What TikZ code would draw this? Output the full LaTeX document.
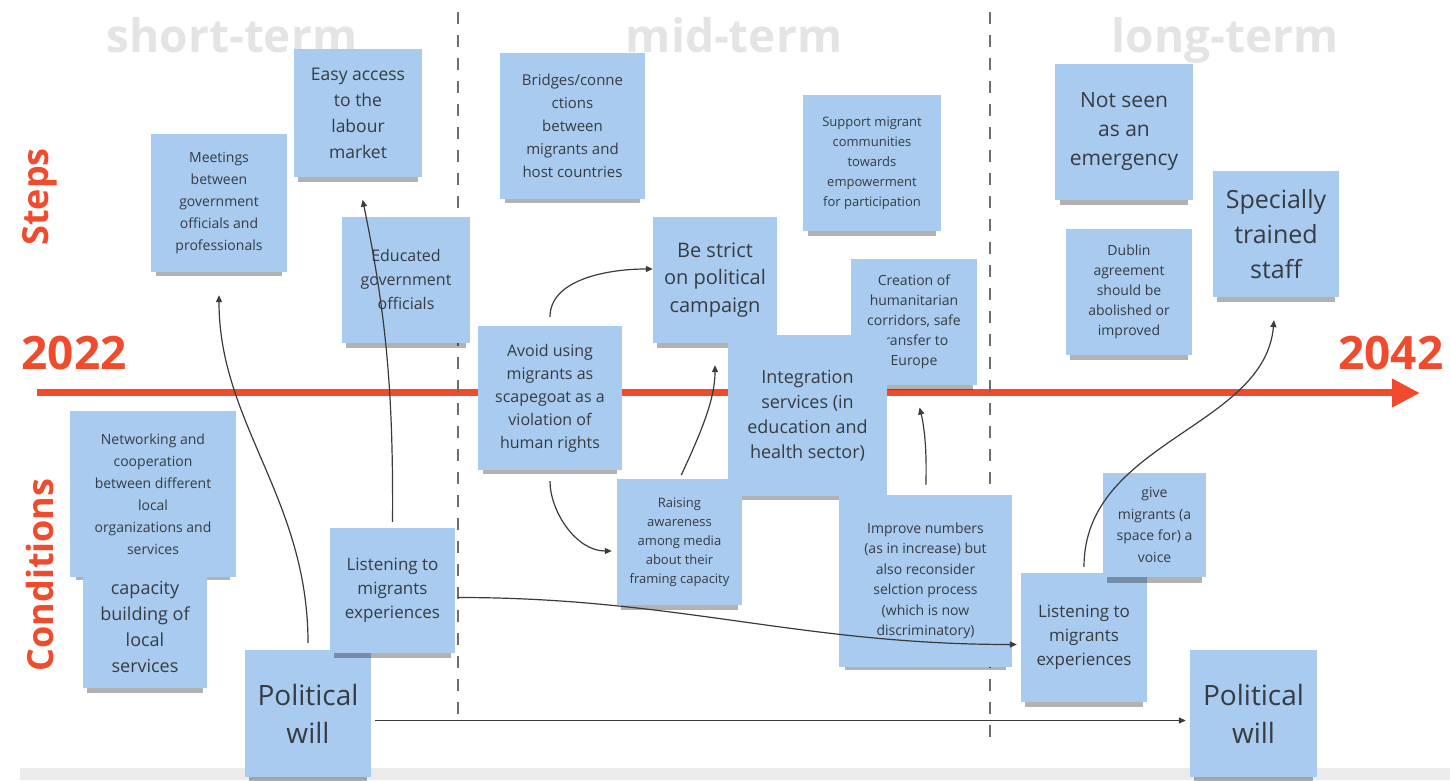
\documentclass[tikz,border=0pt]{standalone}
\usepackage{fontspec}
\setmainfont{Open Sans}
\usepackage{xcolor}
\usepackage{tikz}
\usetikzlibrary{arrows.meta,shadows}

\definecolor{notebl}{HTML}{A8CBEF}
\definecolor{notetx}{HTML}{373C42}
\definecolor{accent}{HTML}{EF4B2C}
\definecolor{headgray}{HTML}{E4E4E4}
\definecolor{divgray}{HTML}{6E6E6E}
\definecolor{bandgray}{HTML}{EBEBEB}
\definecolor{linkgray}{HTML}{3A3A3A}
\newcommand{\nfs}[2]{\fontsize{#1}{#2}\selectfont}

\begin{document}
\begin{tikzpicture}[
  x=1pt, y=1pt,
  note/.style={fill=notebl, text=notetx, align=center, inner sep=0pt,
    drop shadow={shadow xshift=0pt, shadow yshift=-10pt, shadow scale=0.93, opacity=0.3, fill=black}},
  head/.style={text=headgray, font=\nfs{46}{52}\bfseries},
  side/.style={text=accent, font=\nfs{36}{40}\bfseries},
  year/.style={text=accent, font=\nfs{46}{50}\bfseries},
  timeline/.style={draw=accent, line width=7pt, -{Triangle[length=28pt,width=27pt]}},
  divider/.style={draw=divgray, line width=2pt, dash pattern=on 12pt off 11pt},
  link/.style={draw=linkgray, line width=1.2pt, -{Triangle[length=7pt,width=6pt]}},
]
\useasboundingbox (0,0) rectangle (1450,780);

\fill[bandgray] (20,0) rectangle (1450,12);

\node[head, anchor=base] (hshort) at (232,727) {short-term};
\node[head, anchor=base] (hmid) at (734,727) {mid-term};
\node[head, anchor=base] (hlong) at (1225,727) {long-term};

\node[side, rotate=90] (steps) at (40,583) {Steps};
\node[side, rotate=90] (cond) at (40,205) {Conditions};
\node[year, anchor=base west] (y0) at (18,410) {2022};
\node[year, anchor=base east] (y1) at (1447,410) {2042};

\coordinate (t0) at (37,387);
\coordinate (t1) at (1420,387);
\draw[timeline] (t0) -- (t1);

\coordinate (d1a) at (458,768);
\coordinate (d1b) at (458,55);
\coordinate (d2a) at (990,768);
\coordinate (d2b) at (990,40);
\draw[divider] (d1a) -- (d1b);
\draw[divider] (d2a) -- (d2b);

\node[note, minimum width=136pt, minimum height=138pt, font=\nfs{14}{22}] (meet) at (219,577) {Meetings\\between\\government\\officials and\\professionals};
\node[note, minimum width=128pt, minimum height=128pt, font=\nfs{17.5}{26}] (access) at (358,667) {Easy access\\to the\\labour\\market};
\node[note, minimum width=128pt, minimum height=126pt, font=\nfs{16}{24}] (edu) at (406,500) {Educated\\government\\officials};
\node[note, minimum width=166pt, minimum height=166pt, font=\nfs{14}{22}] (network) at (153,286) {Networking and\\cooperation\\between different\\local\\organizations and\\services};
\node[note, minimum width=124pt, minimum height=123pt, font=\nfs{18}{26}] (capac) at (145,153.5) {capacity\\building of\\local\\services};
\node[note, minimum width=126pt, minimum height=127pt, font=\nfs{28}{38}] (polL) at (308,66.5) {Political\\will};
\node[note, minimum width=125pt, minimum height=125pt, font=\nfs{17}{24}] (listenL) at (392.5,189.5) {Listening to\\migrants\\experiences};

\node[note, minimum width=145pt, minimum height=146pt, font=\nfs{15}{23}] (bridge) at (572.5,654) {Bridges/conne\\ctions\\between\\migrants and\\host countries};
\node[note, minimum width=138pt, minimum height=136pt, font=\nfs{13}{20}] (support) at (872,617) {Support migrant\\communities\\towards\\empowerment\\for participation};
\node[note, minimum width=124pt, minimum height=126pt, font=\nfs{20}{27.5}] (strict) at (715,500) {Be strict\\on political\\campaign};
\node[note, minimum width=126pt, minimum height=126pt, font=\nfs{14}{20}] (corridor) at (914,458) {Creation of\\humanitarian\\corridors, safe\\transfer to\\Europe};
\node[note, minimum width=144pt, minimum height=144pt, font=\nfs{16}{23}] (avoid) at (550,382) {Avoid using\\migrants as\\scapegoat as a\\violation of\\human rights};
\node[note, minimum width=159pt, minimum height=161pt, font=\nfs{18}{25}] (integ) at (807.5,364.5) {Integration\\services (in\\education and\\health sector)};
\node[note, minimum width=125pt, minimum height=126pt, font=\nfs{13}{19}] (media) at (679.5,238) {Raising\\awareness\\among media\\about their\\framing capacity};
\node[note, minimum width=173pt, minimum height=172pt, font=\nfs{14}{20.5}] (numbers) at (925.5,199) {Improve numbers\\(as in increase) but\\also reconsider\\selction process\\(which is now\\discriminatory)};

\node[note, minimum width=138pt, minimum height=136pt, font=\nfs{21}{29}] (seen) at (1124,648) {Not seen\\as an\\emergency};
\node[note, minimum width=126pt, minimum height=126pt, font=\nfs{14}{20}] (dublin) at (1129,488) {Dublin\\agreement\\should be\\abolished or\\improved};
\node[note, minimum width=126pt, minimum height=126pt, font=\nfs{25}{35}] (staff) at (1276,546) {Specially\\trained\\staff};
\node[note, minimum width=126pt, minimum height=129pt, font=\nfs{17}{24}] (listenR) at (1084,142.5) {Listening to\\migrants\\experiences};
\node[note, minimum width=103pt, minimum height=104pt, font=\nfs{14}{21.5}] (voice) at (1154.5,255) {give\\migrants (a\\space for) a\\voice};
\node[note, minimum width=127pt, minimum height=127pt, font=\nfs{28}{38}] (polR) at (1253.5,66.5) {Political\\will};

\draw[link, shorten <=7pt, shorten >=23pt] (polL.north) to[out=90, in=-90] (meet.south);
\draw[link, shorten <=6pt, shorten >=23pt] (listenL.north) to[bend right=6] (access.south);
\draw[link, shorten <=9pt] (avoid.north) to[out=90, in=180] ([yshift=11pt]strict.west);
\draw[link, shorten <=11pt, shorten >=5pt] (avoid.south) to[out=-90, in=180] ([yshift=-9pt]media.west);
\draw[link, shorten <=4pt, shorten >=22pt] (media.north) to[out=65, in=-90] (strict.south);
\draw[link, shorten <=10pt, shorten >=23pt] (numbers.north) to[bend right=8] (corridor.south);
\draw[link, shorten <=3pt, shorten >=4pt] ([yshift=-7pt]listenL.east) to[out=0, in=180] ([yshift=-7pt]listenR.west);
\draw[link, shorten <=4pt, shorten >=4pt] ([yshift=-7pt]polL.east) -- ([yshift=-7pt]polR.west);
\draw[link, shorten <=6pt, shorten >=23pt] (listenR.north) to[out=90, in=-95] (staff.south);

\end{tikzpicture}
\end{document}
